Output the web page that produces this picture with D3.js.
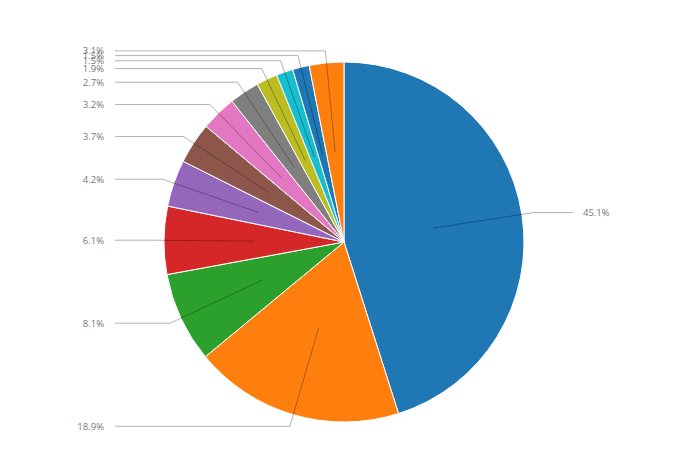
<!DOCTYPE html>
<html><head><meta charset="utf-8">
<script src="https://cdn.jsdelivr.net/npm/d3@7"></script>
<style>body{margin:0;background:#fff;}svg{display:block;}</style>
</head><body>
<svg id="c" width="690" height="471"></svg>
<script>
const categories = ["A","B","C","D","E","F","G","H","I","J","K","L"];
const values = [45.1, 18.9, 8.1, 6.1, 4.2, 3.7, 3.2, 2.7, 1.9, 1.5, 1.5, 3.1];
const labels = ["45.1%","18.9%","8.1%","6.1%","4.2%","3.7%","3.2%","2.7%","1.9%","1.5%","1.5%","3.1%"];
const colors = ["#1f77b4","#ff7f0e","#2ca02c","#d62728","#9467bd","#8c564b","#e377c2","#7f7f7f","#bcbd22","#17becf","#1f77b4","#ff7f0e"];

const svg = d3.select("#c");
const cx = 344, cy = 242, r = 180;
const g = svg.append("g").attr("transform", `translate(${cx},${cy})`);
const data = categories.map((c,i)=>({c, v: values[i], label: labels[i], color: colors[i]}));
const pie = d3.pie().value(d=>d.v).sort(null);
const arcs = pie(data);
const arc = d3.arc().innerRadius(0).outerRadius(r);
g.selectAll("path.s").data(arcs).join("path")
  .attr("d", arc).attr("fill", d=>d.data.color)
  .attr("stroke", "#fff").attr("stroke-width", 1);

const inner = d3.arc().innerRadius(r*0.5).outerRadius(r*0.5);
const outer = d3.arc().innerRadius(192).outerRadius(192);
const xEnd = 229;
arcs.forEach(d=>{
  const p1 = inner.centroid(d), p2 = outer.centroid(d);
  const mid = (d.startAngle + d.endAngle)/2;
  const right = mid < Math.PI;
  const x3 = right ? xEnd : -xEnd;
  g.append("polyline")
    .attr("points", [p1, p2, [x3, p2[1]]].map(p=>p.join(",")).join(" "))
    .attr("fill","none").attr("stroke","#000").attr("stroke-opacity",0.3).attr("stroke-width",1);
  g.append("text")
    .attr("x", right ? x3 + 10 : x3 - 11)
    .attr("y", p2[1])
    .attr("dy","0.35em")
    .attr("text-anchor", right ? "start" : "end")
    .attr("font-family","'Open Sans', sans-serif")
    .attr("font-size", 9.5)
    .attr("fill","#777")
    .text(d.data.label);
});
</script>
</body></html>
